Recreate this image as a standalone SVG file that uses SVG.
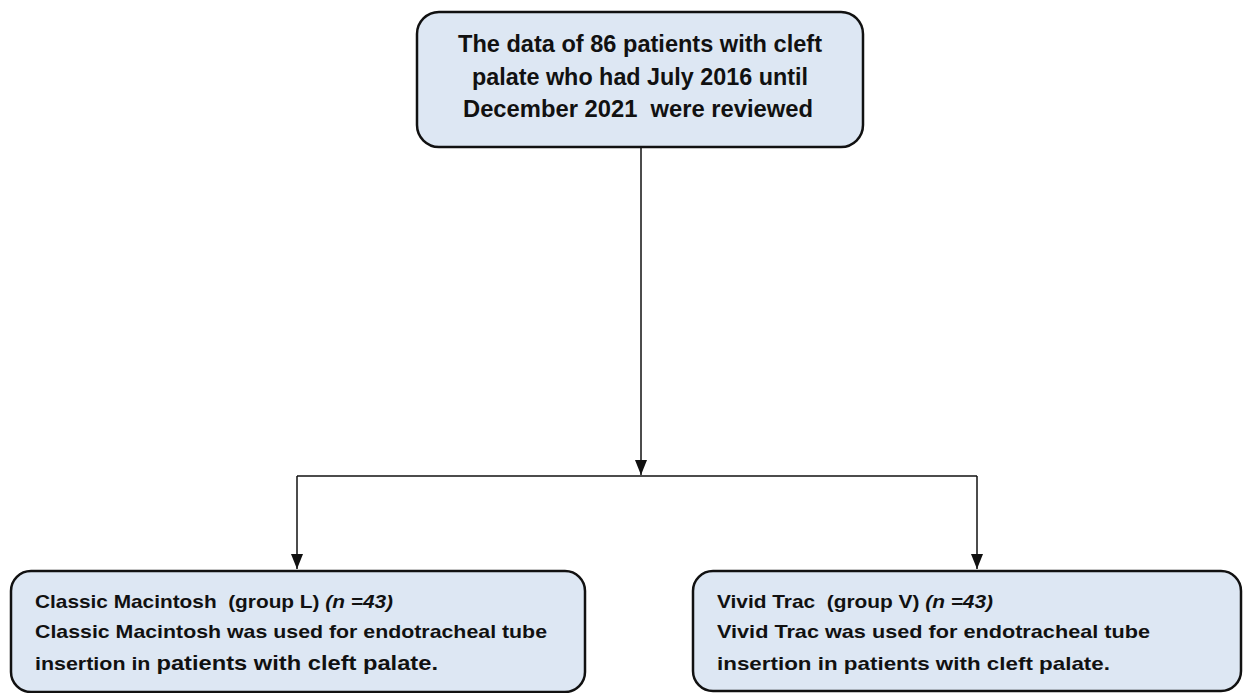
<svg xmlns="http://www.w3.org/2000/svg" width="1248" height="693" viewBox="0 0 1248 693">
<defs>
<style>
.box{fill:#dde7f3;stroke:#111;stroke-width:2.5}
.t{font-family:"Liberation Sans",Arial,sans-serif;font-weight:bold;fill:#111}
.top{font-size:24px;text-anchor:middle}
.b{font-size:19px}
.it{font-style:italic}
.big{font-size:21px}
.con{stroke:#111;stroke-width:1.5;fill:none}
</style>
<marker id="ah" viewBox="0 0 15 12" refX="15" refY="6" markerWidth="15" markerHeight="12" markerUnits="userSpaceOnUse" orient="auto">
<path d="M0,0 L15,6 L0,12 z" fill="#111"/>
</marker>
</defs>
<rect width="1248" height="693" fill="#fff"/>
<g id="connectors">
<line class="con" x1="641" y1="148" x2="641" y2="475" marker-end="url(#ah)"/>
<line class="con" x1="297" y1="476" x2="977" y2="476"/>
<line class="con" x1="297" y1="476" x2="297" y2="569" marker-end="url(#ah)"/>
<line class="con" x1="977" y1="476" x2="977" y2="569" marker-end="url(#ah)"/>
</g>
<g id="node-top">
<rect class="box" x="417" y="12" width="446" height="135" rx="22"/>
<text class="t top" x="640" y="52" textLength="364" lengthAdjust="spacingAndGlyphs">The data of 86 patients with cleft</text>
<text class="t top" x="640" y="85" textLength="336" lengthAdjust="spacingAndGlyphs">palate who had July 2016 until</text>
<text class="t top" x="638" y="117" textLength="350" lengthAdjust="spacingAndGlyphs" xml:space="preserve">December 2021  were reviewed</text>
</g>
<g id="node-left">
<rect class="box" x="11" y="571" width="574" height="121" rx="20"/>
<text class="t b" x="35" y="608" textLength="358" lengthAdjust="spacingAndGlyphs" xml:space="preserve">Classic Macintosh  (group L) <tspan class="it">(n =43)</tspan></text>
<text class="t b" x="35" y="638" textLength="512" lengthAdjust="spacingAndGlyphs">Classic Macintosh was used for endotracheal tube</text>
<text class="t b" x="35" y="670" textLength="403" lengthAdjust="spacingAndGlyphs">insertion in <tspan class="big">patients with cleft palate.</tspan></text>
</g>
<g id="node-right">
<rect class="box" x="693" y="571" width="548" height="120" rx="20"/>
<text class="t b" x="717" y="608" textLength="276" lengthAdjust="spacingAndGlyphs" xml:space="preserve">Vivid Trac  (group V) <tspan class="it">(n =43)</tspan></text>
<text class="t b" x="717" y="638" textLength="433" lengthAdjust="spacingAndGlyphs">Vivid Trac was used for endotracheal tube</text>
<text class="t b" x="717" y="670" textLength="393" lengthAdjust="spacingAndGlyphs">insertion in patients with cleft palate.</text>
</g>
</svg>
